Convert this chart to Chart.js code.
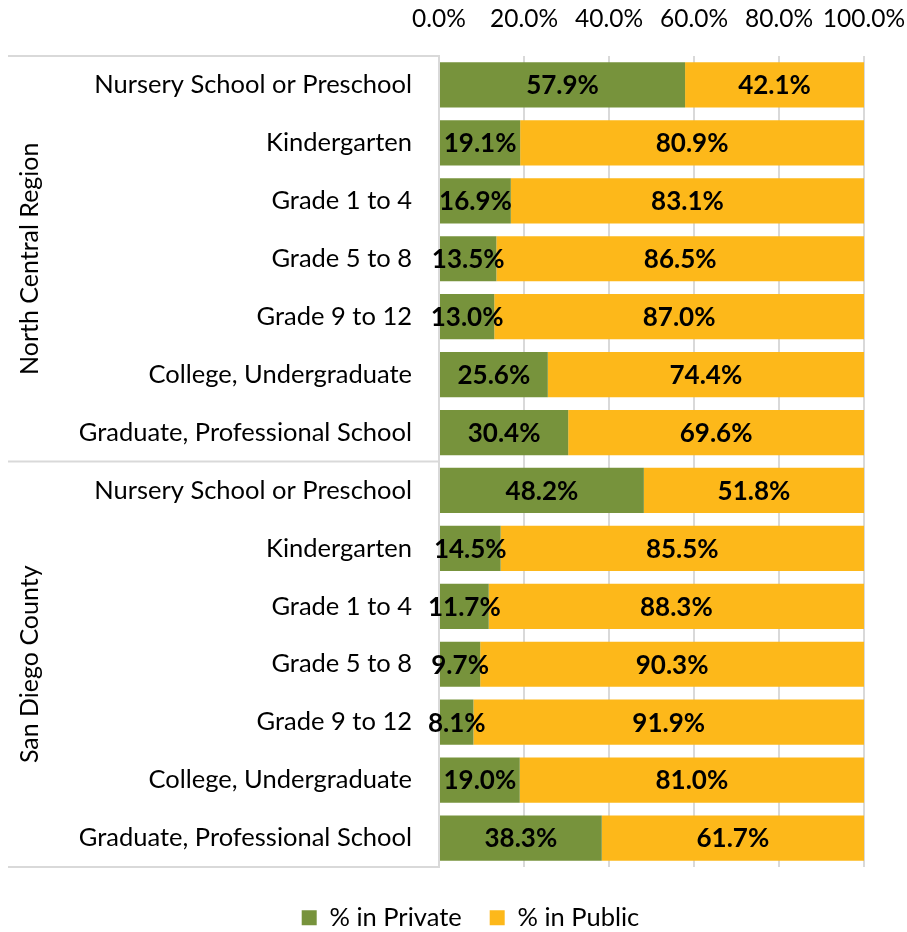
<!DOCTYPE html>
<html>
<head>
<meta charset="utf-8">
<script src="https://cdn.jsdelivr.net/npm/chart.js@4"></script>
<style>
  html, body { margin: 0; padding: 0; background: #fff; }
  #wrap { width: 907px; height: 932px; }
</style>
</head>
<body>
<div id="wrap"><canvas id="myChart"></canvas></div>
<script>
// categories (two groups of seven)
var groups = ["North Central Region", "San Diego County"];
var levels = ["Nursery School or Preschool", "Kindergarten", "Grade 1 to 4", "Grade 5 to 8",
  "Grade 9 to 12", "College, Undergraduate", "Graduate, Professional School"];
var labels = levels.concat(levels);

// % values
var privateValues = [57.9, 19.1, 16.9, 13.5, 13.0, 25.6, 30.4, 48.2, 14.5, 11.7, 9.7, 8.1, 19.0, 38.3];
var publicValues = [42.1, 80.9, 83.1, 86.5, 87.0, 74.4, 69.6, 51.8, 85.5, 88.3, 90.3, 91.9, 81.0, 61.7];
var tickValues = [0, 20, 40, 60, 80, 100];

var green = "#77933C";
var yellow = "#FDB81A";
var gridColor = "#d9d9d9";
var fontName = "Lato, 'Open Sans', sans-serif";

// bold value labels centered in each segment
var valueLabels = {
  id: "valueLabels",
  afterDatasetsDraw: function(chart) {
    var ctx = chart.ctx;
    ctx.save();
    ctx.font = "bold 26px " + fontName;
    ctx.fillStyle = "#000";
    ctx.textAlign = "center";
    ctx.textBaseline = "middle";
    chart.data.datasets.forEach(function(ds, i) {
      chart.getDatasetMeta(i).data.forEach(function(bar, j) {
        var cx = (bar.x + bar.base) / 2;
        ctx.fillText(ds.data[j].toFixed(1) + "%", cx, bar.y + 1);
      });
    });
    ctx.restore();
  }
};

// group labels on the left with their separator lines
var groupBoxes = {
  id: "groupBoxes",
  afterDraw: function(chart) {
    var ctx = chart.ctx;
    var area = chart.chartArea;
    var step = (area.bottom - area.top) / labels.length;
    ctx.save();
    ctx.strokeStyle = gridColor;
    ctx.lineWidth = 2;
    [0, levels.length, labels.length].forEach(function(k) {
      var yy = area.top + k * step;
      ctx.beginPath();
      ctx.moveTo(8, yy);
      ctx.lineTo(area.left, yy);
      ctx.stroke();
    });
    ctx.font = "25px " + fontName;
    ctx.fillStyle = "#000";
    ctx.textAlign = "center";
    ctx.textBaseline = "middle";
    groups.forEach(function(g, k) {
      var top = area.top + k * levels.length * step;
      var mid = top + levels.length * step / 2;
      ctx.save();
      ctx.translate(30, mid);
      ctx.rotate(-Math.PI / 2);
      ctx.fillText(g, 0, 0);
      ctx.restore();
    });
    ctx.restore();
  }
};

new Chart("myChart", {
  type: "bar",
  data: {
    labels: labels,
    datasets: [{
      label: "% in Private",
      data: privateValues,
      backgroundColor: green,
      barPercentage: 0.78,
      categoryPercentage: 1
    }, {
      label: "% in Public",
      data: publicValues,
      backgroundColor: yellow,
      barPercentage: 0.78,
      categoryPercentage: 1
    }]
  },
  options: {
    indexAxis: "y",
    responsive: true,
    maintainAspectRatio: false,
    animation: false,
    // left padding nudges the legend centre right; the y axis fills the rest
    layout: { padding: { left: 34, right: 0, top: 0, bottom: -8.5 } },
    scales: {
      x: {
        position: "top",
        stacked: true,
        min: 0,
        max: 100,
        afterFit: function(s) {
          s.height = 56;
          s.paddingLeft = 0;
          s.paddingRight = 43;
        },
        afterBuildTicks: function(s) {
          s.ticks = tickValues.map(function(v) { return { value: v }; });
        },
        grid: { color: gridColor, lineWidth: 2, drawTicks: false },
        border: { display: false },
        ticks: {
          padding: 22,
          color: "#000",
          maxRotation: 0,
          font: { family: fontName, size: 24.5 },
          callback: function(v) { return v.toFixed(1) + "%"; }
        }
      },
      y: {
        stacked: true,
        afterFit: function(s) { s.width = 405; },
        grid: { display: false, drawTicks: false },
        border: { display: true, color: gridColor, width: 2 },
        ticks: {
          padding: 27,
          color: "#000",
          autoSkip: false,
          font: { family: fontName, size: 25.5 }
        }
      }
    },
    plugins: {
      tooltip: { enabled: false },
      legend: {
        position: "bottom",
        title: { display: true, text: "", font: { size: 10, lineHeight: 1 }, padding: 0 },
        labels: {
          boxWidth: 15,
          boxHeight: 15,
          padding: 28,
          color: "#000",
          font: { family: fontName, size: 25.5 }
        }
      }
    }
  },
  plugins: [valueLabels, groupBoxes]
});
</script>
</body>
</html>
